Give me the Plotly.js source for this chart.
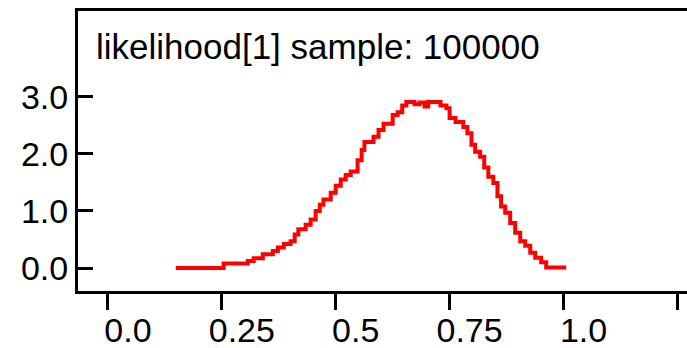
<!DOCTYPE html>
<html>
<head>
<meta charset="utf-8">
<script src="https://cdn.plot.ly/plotly-3.0.1.min.js"></script>
<style>html,body{margin:0;padding:0;background:#fff;}#chart{width:687px;height:348px;}</style>
</head>
<body>
<div id="chart"></div>
<script>
// Density steps (x = step start, y = level)
var densityX = [0.149, 0.254, 0.307, 0.320, 0.340, 0.362, 0.373, 0.386, 0.401, 0.410,
  0.418, 0.434, 0.445, 0.456, 0.465, 0.473, 0.489, 0.500, 0.511, 0.522,
  0.533, 0.548, 0.557, 0.563, 0.583, 0.594, 0.605, 0.625, 0.636, 0.646,
  0.655, 0.673, 0.684, 0.695, 0.703, 0.730, 0.743, 0.750, 0.763, 0.780,
  0.789, 0.798, 0.806, 0.817, 0.826, 0.835, 0.846, 0.855, 0.863, 0.872,
  0.883, 0.894, 0.905, 0.916, 0.927, 0.938, 0.951, 0.962, 1.006];
var densityY = [0.00, 0.08, 0.125, 0.17, 0.24, 0.30, 0.36, 0.42, 0.47, 0.59,
  0.68, 0.76, 0.85, 1.00, 1.11, 1.20, 1.32, 1.44, 1.55, 1.63,
  1.69, 1.89, 2.07, 2.21, 2.30, 2.42, 2.53, 2.68, 2.73, 2.85,
  2.91, 2.87, 2.90, 2.83, 2.91, 2.85, 2.80, 2.63, 2.56, 2.47,
  2.36, 2.16, 2.04, 1.95, 1.76, 1.60, 1.49, 1.26, 1.08, 0.97,
  0.79, 0.62, 0.47, 0.39, 0.27, 0.18, 0.10, 0.01, 0.01];

var xTickVals = [0, 0.25, 0.5, 0.75, 1.0, 1.25];
var xTickText = ["0.0", "0.25", "0.5", "0.75", "1.0", ""];
var yTickVals = [0, 1, 2, 3];
var yTickText = ["0.0", "1.0", "2.0", "3.0"];
var titleText = "likelihood[1] sample: 100000";

var trace = {
  x: densityX, y: densityY, type: 'scatter', mode: 'lines',
  line: {color: '#ff0000', width: 4, shape: 'hv'},
  hoverinfo: 'none'
};

var font = 'Liberation Sans, Arial, sans-serif';
var layout = {
  width: 687, height: 348,
  margin: {l: 78, r: 0, t: 11, b: 57, pad: 0},
  paper_bgcolor: '#fff', plot_bgcolor: '#fff',
  showlegend: false,
  xaxis: {
    range: [-0.0657, 1.2711], showgrid: false, zeroline: false,
    showline: true, linecolor: '#000', linewidth: 3, mirror: true,
    ticks: 'outside', ticklen: 16, tickwidth: 3, tickcolor: '#000',
    tickmode: 'array', tickvals: xTickVals, ticktext: xTickText,
    ticklabelshift: 20, ticklabelstandoff: -9,
    tickfont: {family: font, size: 34, color: '#000'}
  },
  yaxis: {
    range: [-0.402, 4.504], showgrid: false, zeroline: false,
    showline: true, linecolor: '#000', linewidth: 3,
    ticks: 'inside', ticklen: 15, tickwidth: 3, tickcolor: '#000',
    tickmode: 'array', tickvals: yTickVals, ticktext: yTickText,
    tickfont: {family: font, size: 34, color: '#000'}
  },
  annotations: [{
    text: titleText, xref: 'paper', yref: 'paper',
    x: 0.027, y: 0.872, xanchor: 'left', yanchor: 'middle',
    showarrow: false, font: {family: font, size: 35, color: '#000'}
  }]
};

Plotly.newPlot('chart', [trace], layout, {staticPlot: true, displayModeBar: false});
</script>
</body>
</html>
